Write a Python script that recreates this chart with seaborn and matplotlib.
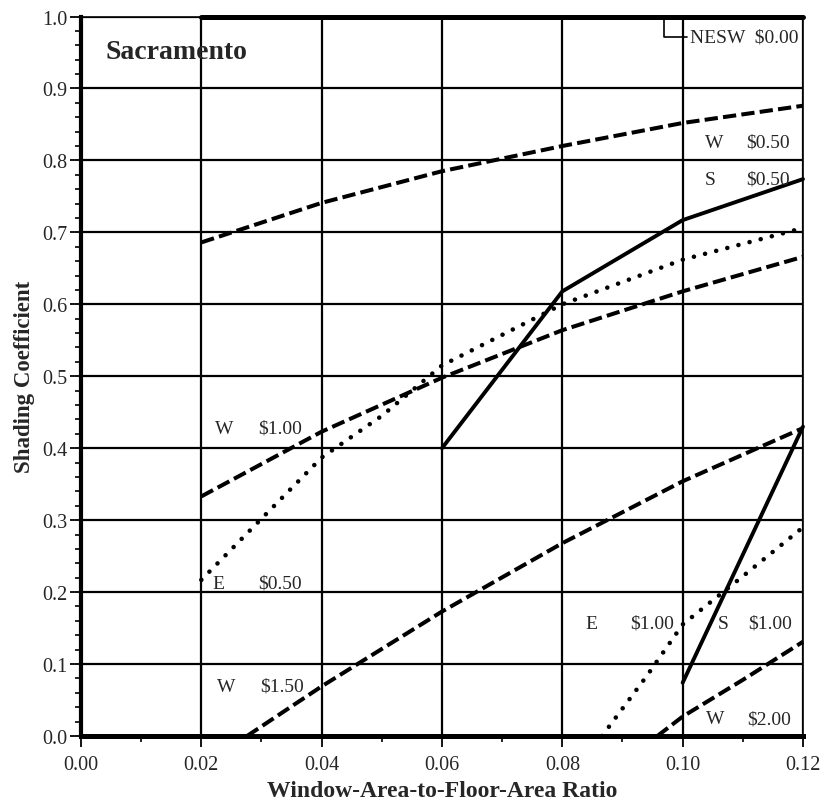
import numpy as np
import pandas as pd
import matplotlib
matplotlib.use("Agg")
from matplotlib import pyplot as plt
from matplotlib.ticker import MultipleLocator, StrMethodFormatter
import seaborn as sns

# curves: window-to-floor ratio vs shading coefficient
ratio_nesw_000 = [0.02, 0.12]
sc_nesw_000 = [1.0, 1.0]

ratio_w_050 = [0.02, 0.04, 0.06, 0.08, 0.10, 0.12]
sc_w_050 = [0.686, 0.741, 0.785, 0.820, 0.852, 0.876]

ratio_s_050 = [0.06, 0.08, 0.10, 0.12]
sc_s_050 = [0.400, 0.618, 0.717, 0.774]

ratio_e_050 = [0.02, 0.03, 0.04, 0.05, 0.06, 0.08, 0.10, 0.12]
sc_e_050 = [0.217, 0.302, 0.387, 0.445, 0.515, 0.600, 0.662, 0.706]

ratio_w_100 = [0.02, 0.04, 0.06, 0.08, 0.10, 0.12]
sc_w_100 = [0.333, 0.423, 0.498, 0.564, 0.618, 0.666]

ratio_w_150 = [0.0276, 0.04, 0.06, 0.08, 0.10, 0.12]
sc_w_150 = [0.0, 0.069, 0.173, 0.268, 0.354, 0.428]

ratio_e_100 = [0.0866, 0.094, 0.10, 0.11, 0.12]
sc_e_100 = [0.0, 0.083, 0.155, 0.222, 0.290]

ratio_s_100 = [0.10, 0.12]
sc_s_100 = [0.074, 0.430]

ratio_w_200 = [0.0958, 0.10, 0.11, 0.12]
sc_w_200 = [0.0, 0.027, 0.078, 0.131]

series = [
    ("NESW $0.00", ratio_nesw_000, sc_nesw_000, "thick"),
    ("W $0.50", ratio_w_050, sc_w_050, "dash"),
    ("S $0.50", ratio_s_050, sc_s_050, "solid"),
    ("E $0.50", ratio_e_050, sc_e_050, "dot"),
    ("W $1.00", ratio_w_100, sc_w_100, "dash"),
    ("W $1.50", ratio_w_150, sc_w_150, "dash"),
    ("E $1.00", ratio_e_100, sc_e_100, "dot"),
    ("S $1.00", ratio_s_100, sc_s_100, "solid"),
    ("W $2.00", ratio_w_200, sc_w_200, "dash"),
]

df = pd.concat([pd.DataFrame({"curve": name, "ratio": xs, "sc": ys, "kind": kind})
                for name, xs, ys, kind in series], ignore_index=True)

# label text: (orientation, cost, x of orientation, x of cost, y)
label_rows = [
    ("W", "$0.50", 0.1037, 0.1106, 0.825),
    ("S", "$0.50", 0.1036, 0.1106, 0.774),
    ("W", "$1.00", 0.0223, 0.0294, 0.428),
    ("E", "$0.50", 0.0219, 0.0294, 0.212),
    ("W", "$1.50", 0.0226, 0.0298, 0.069),
    ("E", "$1.00", 0.0838, 0.0913, 0.157),
    ("S", "$1.00", 0.1059, 0.1109, 0.157),
    ("W", "$2.00", 0.1039, 0.1107, 0.024),
]

sns.set_style("ticks")
plt.rcParams['font.family'] = ['Liberation Serif', 'DejaVu Serif']
plt.rcParams['mathtext.default'] = 'regular'

fig = plt.figure(figsize=(8.24, 8.03), dpi=100)
ax = fig.add_axes([0.0983, 0.0822, 0.8762, 0.8960])

styles = {
    "thick": dict(linestyle="-", lw=3.6),
    "dash": dict(linestyle=(0, (3.3, 1.3)), lw=2.9),
    "solid": dict(linestyle="-", lw=2.8),
    "dot": dict(linestyle=(0, (0.01, 2.5)), lw=3.3),
}

for name, sub in df.groupby("curve", sort=False):
    kind = sub["kind"].iloc[0]
    n_before = len(ax.lines)
    sns.lineplot(data=sub, x="ratio", y="sc", ax=ax, color="black",
                 estimator=None, sort=False, clip_on=False, zorder=3,
                 **styles[kind])
    if kind == "dot":
        for ln in ax.lines[n_before:]:
            ln.set_dash_capstyle("round")

ax.set_xlim(0, 0.12)
ax.set_ylim(0, 1.0)
ax.xaxis.set_major_locator(MultipleLocator(0.02))
ax.xaxis.set_minor_locator(MultipleLocator(0.01))
ax.yaxis.set_major_locator(MultipleLocator(0.1))
ax.yaxis.set_minor_locator(MultipleLocator(0.02))
ax.xaxis.set_major_formatter(StrMethodFormatter("{x:.2f}"))
ax.yaxis.set_major_formatter(StrMethodFormatter("{x:.1f}"))
ax.tick_params(which="major", length=8, width=1.3, labelsize=14.5, color="black")
ax.tick_params(which="minor", length=4.5, width=1.2, color="black")
ax.tick_params(axis="x", pad=6)
ax.tick_params(axis="y", pad=2)
ax.grid(True, which="major", color="black", lw=1.6)

for side in ["top", "right"]:
    ax.spines[side].set_visible(True)
    ax.spines[side].set_linewidth(1.2)
ax.spines["left"].set_linewidth(3.0)
ax.spines["bottom"].set_linewidth(3.6)
for sp in ax.spines.values():
    sp.set_color("black")

ax.set_xlabel("Window-Area-to-Floor-Area Ratio", fontsize=17, fontweight="bold", labelpad=4)
ax.set_ylabel("Shading Coefficient", fontsize=16.5, fontweight="bold", labelpad=5)

ax.text(0.004, 0.951, "Sacramento", fontsize=20, fontweight="bold", va="center", ha="left")

for orient, cost, xo, xc, y in label_rows:
    ax.text(xo, y, orient, fontsize=14, va="center", ha="left", zorder=4)
    ax.text(xc, y, cost, fontsize=14, va="center", ha="left", zorder=4)

ax.annotate("NESW  $0.00", xy=(0.0969, 1.0), xytext=(0.1012, 0.972),
            fontsize=14, va="center", ha="left", annotation_clip=False,
            arrowprops=dict(arrowstyle="-", color="black", lw=1.2, shrinkA=0, shrinkB=0,
                            relpos=(0, 0.5),
                            connectionstyle="angle,angleA=180,angleB=90,rad=0"))

plt.savefig("out.png", dpi=100)
